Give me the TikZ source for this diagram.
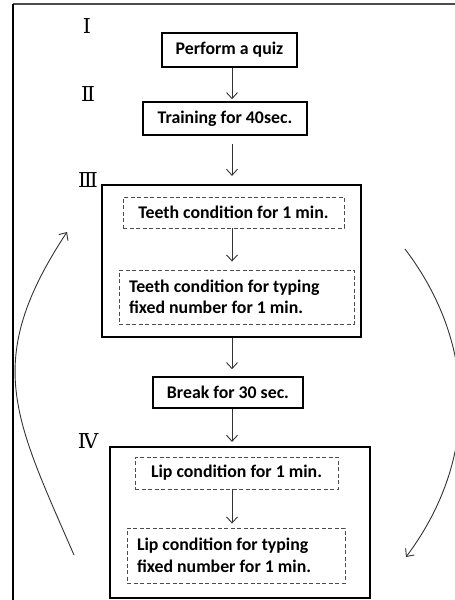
\documentclass[tikz,border=0pt]{standalone}
\usepackage{fontspec}
\setmainfont{Carlito}
\newfontfamily\romfont{DejaVu Serif}
\usetikzlibrary{arrows.meta}
\begin{document}
\begin{tikzpicture}[x=1pt,y=-1pt,
  every node/.style={font=\bfseries\fontsize{17.8}{21.5}\selectfont},
  box/.style={draw, line width=1.6pt, inner sep=0pt},
  grp/.style={draw, line width=2.2pt, inner sep=0pt},
  dbox/.style={draw=black!70, dashed, line width=0.9pt, dash pattern=on 4pt off 2.5pt, inner sep=0pt},
  twoline/.style={align=left, inner xsep=10pt, execute at begin node={\spaceskip=0pt\xspaceskip=0pt}},
  arr/.style={draw=black!80, line width=0.9pt, -{Straight Barb[length=6pt,width=11pt]}},
  rom/.style={font=\romfont\fontsize{20.5}{20.5}\selectfont}]
\useasboundingbox (0,0) rectangle (455,600);
% frame
\draw[draw=black!70, line width=1.8pt] (13,4) -- (470,4);
\draw[line width=1.8pt] (13,4) -- (13,620);
% stage labels
\node[rom] (s1) at (87,26) {Ⅰ};
\node[rom] (s2) at (88,94) {Ⅱ};
\node[rom] (s3) at (88,180) {Ⅲ};
\node[rom] (s4) at (88,441) {Ⅳ};
% group boxes
\node[grp, minimum width=259pt, minimum height=152pt] (g3) at (231.5,261) {};
\node[grp, minimum width=260pt, minimum height=151pt] (g4) at (240,522.5) {};
% boxes
\node[box, minimum width=135pt, minimum height=34pt] (quiz) at (229.5,50) {Perform a quiz};
\node[box, minimum width=164pt, minimum height=33pt] (train) at (225,118.5) {Training for 40sec.};
\node[dbox, minimum width=221pt, minimum height=31pt] (t1) at (233.5,212.5) {Teeth condition for 1 min.};
\node[dbox, twoline, minimum width=235pt, minimum height=54pt, text width=215pt] (t2) at (236.5,297) {Teeth condition for typing\\fixed number for 1 min.};
\node[box, minimum width=150pt, minimum height=31pt] (brk) at (228,392.5) {Break for 30 sec.};
\node[dbox, minimum width=203pt, minimum height=32pt] (l1) at (236.5,473) {Lip condition for 1 min.};
\node[dbox, twoline, minimum width=218pt, minimum height=55pt, text width=198pt] (l2) at (236,555.5) {Lip condition for typing\\fixed number for 1 min.};
% arrows
\coordinate (ax) at (232,0);
\draw[arr, shorten >=2pt] (quiz.south -| ax) -- (train.north -| ax);
\draw[arr, shorten <=8pt, shorten >=8pt] (train.south -| ax) -- (g3.north -| ax);
\draw[arr, shorten >=8pt] (t1.south -| ax) -- (t2.north -| ax);
\draw[arr, shorten >=7pt] (g3.south -| ax) -- (brk.north -| ax);
\draw[arr, shorten >=4pt] (brk.south -| ax) -- (g4.north -| ax);
\draw[arr, shorten >=4pt] (l1.south -| ax) -- (l2.north -| ax);
% loop arrows
\coordinate (la) at (74,555);
\coordinate (lb) at (67,232);
\draw[arr] (la) .. controls (14,417) and (-18,361) .. (lb);
\coordinate (ra) at (405,249);
\coordinate (rb) at (406,557);
\draw[arr] (ra) to[bend left=37] (rb);
\end{tikzpicture}
\end{document}
